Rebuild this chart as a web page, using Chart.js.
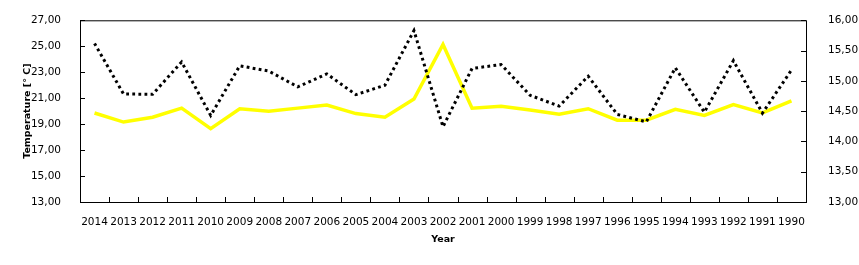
<!DOCTYPE html>
<html>
<head>
<meta charset="utf-8">
<title>Temperature</title>
<script src="https://cdn.jsdelivr.net/npm/chart.js@4.4.1/dist/chart.umd.min.js"></script>
<style>
  html, body { margin: 0; padding: 0; background: #fff; }
  #wrap { width: 859px; height: 265px; }
</style>
</head>
<body>
<div id="wrap"><canvas id="myChart" width="859" height="265"></canvas></div>
<script>
"use strict";

// ---------- data ----------
var years = ["2014", "2013", "2012", "2011", "2010", "2009", "2008", "2007", "2006",
  "2005", "2004", "2003", "2002", "2001", "2000", "1999", "1998", "1997", "1996",
  "1995", "1994", "1993", "1992", "1991", "1990"];

// dotted black line, left axis
var localTemp = [25.22, 21.32, 21.3, 23.79, 19.67, 23.49, 23.09, 21.87, 22.87,
  21.27, 22.0, 26.21, 18.8, 23.29, 23.59, 21.22, 20.39, 22.69, 19.75,
  19.17, 23.34, 19.92, 23.89, 19.85, 23.17];

// yellow line, right axis
var globalTemp = [14.47, 14.32, 14.4, 14.55, 14.21, 14.54, 14.5, 14.55, 14.6,
  14.46, 14.4, 14.7, 15.6, 14.55, 14.58, 14.52, 14.45, 14.54, 14.35,
  14.35, 14.53, 14.43, 14.61, 14.47, 14.67];

var leftTicks = [13, 15, 17, 19, 21, 23, 25, 27];
var rightTicks = [13, 13.5, 14, 14.5, 15, 15.5, 16];
var xTitle = "Year";

function commaLabel(v) {
  return Number(v).toFixed(2).replace(".", ",");
}

var tickFont = { family: "DejaVu Sans", size: 10.5 };
var titleFont = { family: "DejaVu Sans", size: 9.5, weight: "bold" };

//----------- frame, inward tick marks and x title ------------
var framePlugin = {
  id: "frame",
  afterDatasetsDraw: function (chart) {
    var ctx = chart.ctx;
    var a = chart.chartArea;
    var x = chart.scales.x;
    var y = chart.scales.y;
    var y2 = chart.scales.y2;
    ctx.save();
    ctx.strokeStyle = "#000";
    ctx.lineWidth = 1;
    ctx.strokeRect(a.left + 0.5, a.top + 0.5, a.right - a.left, a.bottom - a.top);
    ctx.beginPath();
    for (var i = 0; i < leftTicks.length; i++) {
      var py = Math.round(y.getPixelForValue(leftTicks[i])) + 0.5;
      ctx.moveTo(a.left, py);
      ctx.lineTo(a.left + 5, py);
    }
    for (var j = 0; j < rightTicks.length; j++) {
      var py2 = Math.round(y2.getPixelForValue(rightTicks[j])) + 0.5;
      ctx.moveTo(a.right - 5, py2);
      ctx.lineTo(a.right, py2);
    }
    var step = (x.right - x.left) / years.length;
    for (var k = 1; k < years.length; k++) {
      var px = Math.round(x.left + k * step) + 0.5;
      ctx.moveTo(px, a.bottom - 5);
      ctx.lineTo(px, a.bottom);
    }
    ctx.stroke();

    // x axis title
    ctx.fillStyle = "#000";
    ctx.font = "bold 9.5px 'DejaVu Sans'";
    ctx.textAlign = "center";
    ctx.textBaseline = "middle";
    ctx.fillText(xTitle, (a.left + a.right) / 2, a.bottom + 38);
    ctx.restore();
  }
};

var ctx = document.getElementById("myChart").getContext("2d");
var chart = new Chart(ctx, {
  type: "line",
  data: {
    labels: years,
    datasets: [
      {
        label: "local",
        data: localTemp,
        yAxisID: "y",
        borderColor: "#000000",
        borderWidth: 3,
        borderDash: [2.8, 3.3],
        pointRadius: 0,
        tension: 0,
        fill: false
      },
      {
        label: "global",
        data: globalTemp,
        yAxisID: "y2",
        borderColor: "#FFFF00",
        borderWidth: 3.5,
        pointRadius: 0,
        tension: 0,
        fill: false
      }
    ]
  },
  options: {
    responsive: false,
    animation: false,
    layout: { padding: { top: 15, left: 0, right: 0, bottom: 0 } },
    plugins: {
      legend: { display: false },
      tooltip: { enabled: false }
    },
    scales: {
      x: {
        offset: true,
        grid: { display: false },
        border: { display: false },
        ticks: {
          color: "#000",
          font: tickFont,
          autoSkip: false,
          maxRotation: 0,
          minRotation: 0,
          padding: 6
        },
        afterFit: function (scale) {
          scale.height = 63;
        }
      },
      y: {
        position: "left",
        min: 13,
        max: 27,
        grid: { display: false },
        border: { display: false },
        ticks: {
          stepSize: 2,
          color: "#000",
          font: tickFont,
          padding: 11,
          callback: function (v) { return commaLabel(v); }
        },
        title: {
          display: true,
          text: "Temperature [° C]",
          color: "#000",
          font: titleFont,
          padding: { top: 22, bottom: 0 }
        },
        afterFit: function (scale) {
          scale.width = 80;
        }
      },
      y2: {
        position: "right",
        min: 13,
        max: 16,
        grid: { display: false },
        border: { display: false },
        ticks: {
          stepSize: 0.5,
          color: "#000",
          font: tickFont,
          padding: 14,
          callback: function (v) { return commaLabel(v); }
        },
        afterFit: function (scale) {
          scale.width = 53;
        }
      }
    }
  },
  plugins: [framePlugin]
});
</script>
</body>
</html>
